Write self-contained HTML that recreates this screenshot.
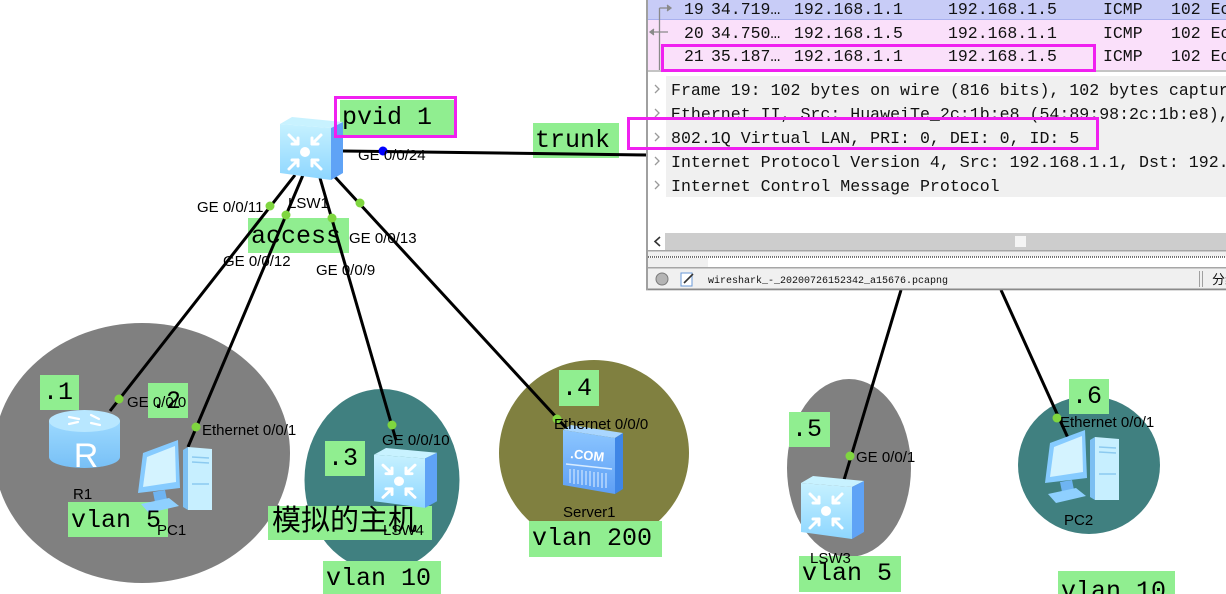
<!DOCTYPE html>
<html><head><meta charset="utf-8">
<style>
html,body{margin:0;padding:0;background:#fff;width:1226px;height:594px;overflow:hidden}
svg{display:block}
.m{font-family:"Liberation Mono","DejaVu Sans Mono",monospace}
.s{font-family:"Liberation Sans",Arial,sans-serif}
.cj{font-family:"Liberation Sans","Noto Sans CJK SC",sans-serif}
</style></head><body>
<svg width="1226" height="594" viewBox="0 0 1226 594" xmlns="http://www.w3.org/2000/svg">
<defs>
<linearGradient id="gf" x1="0" y1="0" x2="0" y2="1"><stop offset="0" stop-color="#c6f1ff"/><stop offset="1" stop-color="#8ed6ff"/></linearGradient>
<linearGradient id="gr" x1="0" y1="0" x2="0" y2="1"><stop offset="0" stop-color="#9cd9ff"/><stop offset="1" stop-color="#78c0f6"/></linearGradient>
<linearGradient id="gs" x1="0" y1="0" x2="0" y2="1"><stop offset="0" stop-color="#8cc6ff"/><stop offset="1" stop-color="#5e9ff5"/></linearGradient>
<g id="sw">
  <polygon points="2,7 14,0 65,5 53,11" fill="#c8f2ff"/>
  <polygon points="2,7 53,11 53,63 2,56" fill="url(#gf)"/>
  <polygon points="53,11 65,5 65,56 53,63" fill="#5fa3f6"/>
  <g stroke="#fff" stroke-width="3" fill="none" stroke-linecap="round" stroke-linejoin="round">
    <line x1="11" y1="18" x2="20" y2="27"/><polyline points="14,27 20,27 20,21"/>
    <line x1="43" y1="18" x2="34" y2="27"/><polyline points="40,27 34,27 34,21"/>
    <line x1="11" y1="52" x2="20" y2="43"/><polyline points="14,43 20,43 20,49"/>
    <line x1="43" y1="52" x2="34" y2="43"/><polyline points="40,43 34,43 34,49"/>
  </g>
  <circle cx="27" cy="35" r="5" fill="#fff"/>
</g>
<g id="pc">
  <polygon points="48,10 53,7 53,70 48,67" fill="#7cbff2"/>
  <polygon points="53,7 77,9 77,70 53,70" fill="#c7efff"/>
  <g stroke="#8ccaf0" stroke-width="1.5"><line x1="57" y1="17" x2="74" y2="18"/><line x1="57" y1="22" x2="74" y2="23"/><line x1="57" y1="44" x2="74" y2="44"/></g>
  <polygon points="8,13 43,0 45,48 3,53" fill="#86cbff"/>
  <polygon points="12,17 40,6 41,42 8,47" fill="#d4f3ff"/>
  <polygon points="18,52 30,50 32,60 20,62" fill="#6eb4f2"/>
  <polygon points="6,64 34,58 44,66 14,73" fill="#8fd0ff"/>
</g>
</defs>

<!-- ellipses -->
<ellipse cx="142" cy="453" rx="148" ry="130" fill="#808080"/>
<ellipse cx="382" cy="480" rx="77.5" ry="91" fill="#408080"/>
<ellipse cx="594" cy="453" rx="95" ry="93" fill="#808040"/>
<ellipse cx="849" cy="468" rx="62" ry="89" fill="#808080"/>
<ellipse cx="1089" cy="465" rx="71" ry="69" fill="#408080"/>

<!-- green boxes -->
<g fill="#90ee90">
<rect x="340" y="100" width="115" height="35"/>
<rect x="533" y="123" width="86" height="35"/>
<rect x="248" y="218" width="101" height="35"/>
<rect x="40" y="375" width="39" height="35"/>
<rect x="148" y="383" width="40" height="35"/>
<rect x="68" y="502" width="100" height="35"/>
<rect x="325" y="441" width="40" height="35"/>
<rect x="268" y="506" width="164" height="34"/>
<rect x="323" y="561" width="118" height="34"/>
<rect x="559" y="370" width="40" height="36"/>
<rect x="529" y="521" width="133" height="36"/>
<rect x="789" y="412" width="41" height="35"/>
<rect x="799" y="556" width="102" height="36"/>
<rect x="1069" y="379" width="40" height="35"/>
<rect x="1058" y="571" width="117" height="30"/>
</g>

<!-- links -->
<g stroke="#000" stroke-width="3" stroke-linecap="butt">
<line x1="295" y1="175" x2="110" y2="411"/>
<line x1="303" y1="175" x2="188" y2="447"/>
<line x1="320" y1="178" x2="396" y2="440"/>
<line x1="335" y1="177" x2="568" y2="430"/>
<line x1="343" y1="151" x2="648" y2="155"/>
<line x1="901" y1="290" x2="844" y2="480"/>
<line x1="1001" y1="290" x2="1068" y2="438"/>
</g>

<!-- LSW1 -->
<use href="#sw" x="278" y="117"/>
<!-- LSW4 -->
<g transform="translate(372,448) scale(1,0.95)"><use href="#sw"/></g>
<!-- LSW3 -->
<use href="#sw" x="799" y="476"/>
<!-- R1 -->
<g transform="translate(49,409)">
  <path d="M0,12 L0,48 A35.5,11 0 0 0 71,48 L71,12 Z" fill="url(#gr)"/>
  <ellipse cx="35.5" cy="12" rx="35.5" ry="11" fill="#b8e7ff"/>
  <g stroke="#fff" stroke-width="2.2" fill="none" stroke-linecap="round">
    <line x1="20" y1="8" x2="30" y2="10"/><line x1="42" y1="6" x2="50" y2="10"/>
    <line x1="20" y1="15" x2="29" y2="13"/><line x1="42" y1="14" x2="51" y2="16"/>
  </g>
  <text x="37" y="58" font-family="Liberation Sans,Arial,sans-serif" font-size="34" fill="#fff" text-anchor="middle">R</text>
</g>
<!-- PC1 -->
<use href="#pc" x="135" y="440"/>
<!-- PC2 -->
<use href="#pc" x="1042" y="430"/>
<!-- Server1 -->
<g transform="translate(563,425)">
  <polygon points="0,5 8,0 60,8 52,13" fill="#a9d6ff"/>
  <polygon points="0,5 52,13 52,69 0,60" fill="url(#gs)"/>
  <polygon points="52,13 60,8 60,64 52,69" fill="#3f86e6"/>
  <text x="7" y="33" font-family="Liberation Sans,Arial,sans-serif" font-weight="bold" font-size="13" fill="#fff" transform="rotate(6 7 33)">.COM</text>
  <line x1="3" y1="39" x2="49" y2="44" stroke="#d8ecff" stroke-width="1.5"/>
  <g stroke="#cfe6ff" stroke-width="1.2">
    <line x1="7" y1="44" x2="7" y2="58"/><line x1="11" y1="44" x2="11" y2="59"/><line x1="15" y1="45" x2="15" y2="59"/>
    <line x1="19" y1="45" x2="19" y2="60"/><line x1="23" y1="46" x2="23" y2="60"/><line x1="27" y1="46" x2="27" y2="61"/>
    <line x1="31" y1="47" x2="31" y2="62"/><line x1="35" y1="47" x2="35" y2="62"/><line x1="39" y1="48" x2="39" y2="63"/>
    <line x1="43" y1="48" x2="43" y2="63"/>
  </g>
</g>

<!-- port dots -->
<g fill="#7fd63f">
<circle cx="270" cy="206" r="4.5"/>
<circle cx="286" cy="215" r="4.5"/>
<circle cx="332" cy="218" r="4.5"/>
<circle cx="360" cy="203" r="4.5"/>
<circle cx="119" cy="399" r="4.5"/>
<circle cx="196" cy="427" r="4.5"/>
<circle cx="392" cy="425" r="4.5"/>
<circle cx="557" cy="419" r="4.5"/>
<circle cx="850" cy="456" r="4.5"/>
<circle cx="1057" cy="418" r="4.5"/>
</g>
<circle cx="383" cy="151" r="4.5" fill="#0000ff"/>

<!-- green box texts -->
<g class="m" font-size="25" fill="#000">
<text x="342" y="124">pvid 1</text>
<text x="535" y="147">trunk</text>
<text x="251" y="243">access</text>
<text x="43" y="399">.1</text>
<text x="151" y="408">.2</text>
<text x="71" y="527">vlan 5</text>
<text x="328" y="465">.3</text>
<text x="326" y="585">vlan 10</text>
<text x="562" y="395">.4</text>
<text x="532" y="545">vlan 200</text>
<text x="792" y="436">.5</text>
<text x="802" y="580">vlan 5</text>
<text x="1072" y="403">.6</text>
<text x="1061" y="598">vlan 10</text>
</g>
<text class="cj" x="272" y="530" font-size="29" fill="#000">模拟的主机</text>

<!-- device & port labels -->
<g class="s" font-size="15" fill="#000">
<text x="288" y="208">LSW1</text>
<text x="73" y="499">R1</text>
<text x="157" y="535">PC1</text>
<text x="383" y="535">LSW4</text>
<text x="563" y="517">Server1</text>
<text x="810" y="563">LSW3</text>
<text x="1064" y="525">PC2</text>
<text x="358" y="160">GE 0/0/24</text>
<text x="197" y="212">GE 0/0/11</text>
<text x="223" y="266">GE 0/0/12</text>
<text x="316" y="275">GE 0/0/9</text>
<text x="349" y="243">GE 0/0/13</text>
<text x="127" y="407">GE 0/0/0</text>
<text x="202" y="435">Ethernet 0/0/1</text>
<text x="382" y="445">GE 0/0/10</text>
<text x="554" y="429">Ethernet 0/0/0</text>
<text x="856" y="462">GE 0/0/1</text>
<text x="1060" y="427">Ethernet 0/0/1</text>
</g>

<!-- ===== Wireshark panel ===== -->
<rect x="647" y="0" width="579" height="290" fill="#fff"/>
<rect x="648" y="0" width="578" height="20" fill="#c8ccf7"/>
<line x1="648" y1="19.5" x2="1226" y2="19.5" stroke="#a9b0ee" stroke-width="1"/>
<rect x="648" y="20" width="578" height="50" fill="#fae0fa"/>
<rect x="648" y="70" width="578" height="2" fill="#c4c4c4"/>
<!-- tree lines -->
<g stroke="#8a8a8a" stroke-width="1.3" fill="none">
<line x1="659.5" y1="8" x2="659.5" y2="70"/>
<line x1="659.5" y1="8" x2="671" y2="8"/>
<polyline points="667,5 671,8 667,11" fill="#8a8a8a"/>
<line x1="650" y1="32" x2="668" y2="32"/>
<polyline points="654,29 650,32 654,35" fill="#8a8a8a"/>
</g>
<g class="m" font-size="16.5" fill="#111">
<text x="684" y="14">19</text><text x="711" y="14">34.719…</text><text x="794" y="14">192.168.1.1</text><text x="948" y="14">192.168.1.5</text><text x="1103" y="14">ICMP</text><text x="1171" y="14">102 Ec</text>
<text x="684" y="38">20</text><text x="711" y="38">34.750…</text><text x="794" y="38">192.168.1.5</text><text x="948" y="38">192.168.1.1</text><text x="1103" y="38">ICMP</text><text x="1171" y="38">102 Ec</text>
<text x="684" y="61">21</text><text x="711" y="61">35.187…</text><text x="794" y="61">192.168.1.1</text><text x="948" y="61">192.168.1.5</text><text x="1103" y="61">ICMP</text><text x="1171" y="61">102 Ec</text>
</g>
<!-- details -->
<rect x="666" y="76" width="560" height="121" fill="#f0f0f0"/>
<g stroke="#9a9a9a" stroke-width="1.3" fill="none">
<polyline points="655,85 659,89 655,93"/>
<polyline points="655,109 659,113 655,117"/>
<polyline points="655,133 659,137 655,141"/>
<polyline points="655,157 659,161 655,165"/>
<polyline points="655,181 659,185 655,189"/>
</g>
<g class="m" font-size="16.6" fill="#111">
<text x="671" y="95">Frame 19: 102 bytes on wire (816 bits), 102 bytes captured</text>
<text x="671" y="119">Ethernet II, Src: HuaweiTe_2c:1b:e8 (54:89:98:2c:1b:e8), Dst</text>
<text x="671" y="143">802.1Q Virtual LAN, PRI: 0, DEI: 0, ID: 5</text>
<text x="671" y="167">Internet Protocol Version 4, Src: 192.168.1.1, Dst: 192.168.1.5</text>
<text x="671" y="191">Internet Control Message Protocol</text>
</g>
<!-- scrollbar -->
<rect x="665" y="233" width="561" height="17" fill="#cdcdcd"/>
<rect x="1015" y="236" width="11" height="11" fill="#f4f4f4"/>
<polyline points="660,237 655,241.5 660,246" stroke="#333" stroke-width="1.6" fill="none"/>
<rect x="648" y="250" width="578" height="1.5" fill="#a6a6a6"/>
<rect x="648" y="251.5" width="578" height="5" fill="#f0f0f0"/>
<line x1="648" y1="257" x2="1226" y2="257" stroke="#222" stroke-width="1.2" stroke-dasharray="1,1"/>
<rect x="648" y="258" width="60" height="9" fill="#f0f0f0"/>
<rect x="648" y="267" width="578" height="1.5" fill="#a6a6a6"/>
<rect x="648" y="268.5" width="578" height="20" fill="#f0f0f0"/>
<rect x="646" y="288.5" width="580" height="1.8" fill="#8a8a8a"/>
<rect x="646" y="0" width="2" height="290" fill="#a0a0a0"/>
<circle cx="662" cy="279" r="6" fill="#b4b4b4" stroke="#7a7a7a" stroke-width="1"/>
<rect x="681" y="273" width="11" height="13" fill="#fff" stroke="#6a9ad8" stroke-width="1"/>
<line x1="684" y1="283" x2="693" y2="274" stroke="#333" stroke-width="1.6"/>
<text class="m" x="708" y="283" font-size="10" fill="#111">wireshark_-_20200726152342_a15676.pcapng</text>
<line x1="1199.5" y1="271" x2="1199.5" y2="287" stroke="#a0a0a0" stroke-width="1"/>
<line x1="1202.5" y1="271" x2="1202.5" y2="287" stroke="#a0a0a0" stroke-width="1"/>
<text class="cj" x="1212" y="284" font-size="13" fill="#111">分组</text>

<!-- magenta highlight boxes -->
<g fill="none" stroke="#f020f0" stroke-width="3">
<rect x="335.5" y="97.5" width="120" height="39"/>
<rect x="662.5" y="45.5" width="432" height="25"/>
<rect x="628.5" y="118.5" width="469" height="30"/>
</g>
</svg>
</body></html>
